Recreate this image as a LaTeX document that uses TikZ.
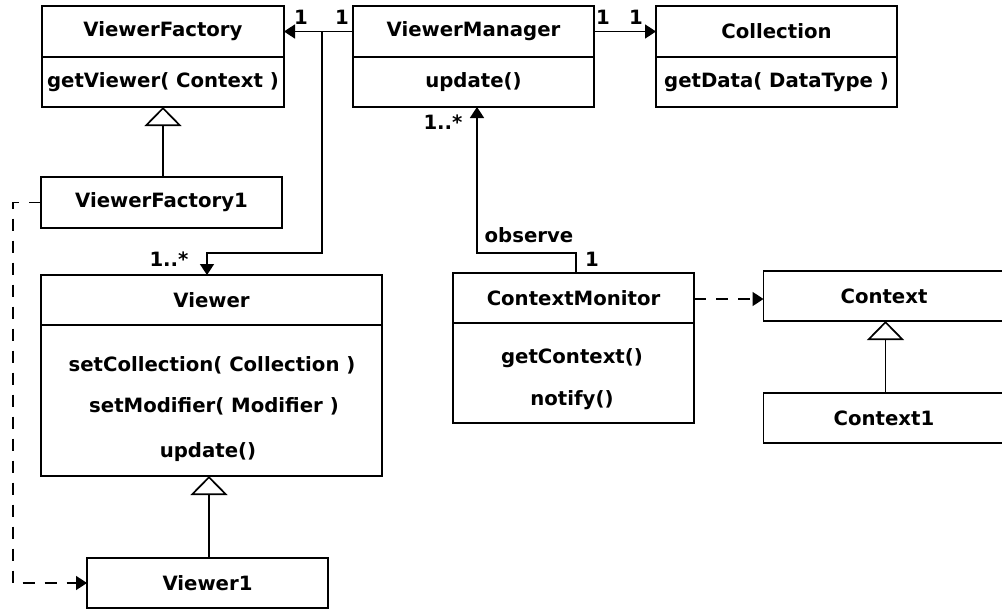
\documentclass[tikz,border=0pt]{standalone}
\usepackage{fontspec}
\setmainfont{DejaVu Sans}
\usetikzlibrary{arrows.meta,calc}

\tikzset{
  box/.style={draw, line width=1.7pt, rectangle, inner sep=0pt, outer sep=0pt, font=\fontsize{19.7pt}{23pt}\selectfont\bfseries},
  txt/.style={inner sep=0pt, font=\fontsize{19.7pt}{23pt}\selectfont\bfseries},
  assoc/.style={line width=1.7pt, -{Triangle[length=11pt,width=14pt]}},
  depend/.style={line width=1.7pt, dash pattern=on 12pt off 10pt, -{Triangle[length=11pt,width=14pt]}},
  inherit/.style={line width=1.7pt, -{Triangle[open,length=19pt,width=37pt,fill=white]}},
}

\begin{document}
\begin{tikzpicture}[x=1pt, y=-1pt]
  \useasboundingbox (0,0) rectangle (1002,610);
  \clip (0,0) rectangle (1002,610);

  % ViewerFactory
  \node[box, minimum width=242pt, minimum height=51pt] (vfh) at (163,31.5) {ViewerFactory};
  \node[box, minimum width=242pt, minimum height=50pt, anchor=north] (vfb) at (vfh.south) {getViewer( Context )};

  % ViewerManager
  \node[box, minimum width=241pt, minimum height=51pt] (vmh) at (473.5,31.5) {ViewerManager};
  \node[box, minimum width=241pt, minimum height=50pt, anchor=north] (vmb) at (vmh.south) {update()};

  % Collection
  \node[box, minimum width=241pt, minimum height=51pt] (colh) at (776.5,31.5) {Collection};
  \node[box, minimum width=241pt, minimum height=50pt, anchor=north] (colb) at (colh.south) {getData( DataType )};

  % ViewerFactory1
  \node[box, minimum width=241pt, minimum height=51pt] (vf1) at (161.5,202.5) {ViewerFactory1};

  % Viewer
  \node[box, minimum width=341pt, minimum height=50pt] (vwh) at (211.5,300) {Viewer};
  \node[box, minimum width=341pt, minimum height=151pt, anchor=north] (vwb) at (vwh.south) {};
  \node[txt] (vwm1) at (212,365) {setCollection( Collection )};
  \node[txt] (vwm2) at (214,406) {setModifier( Modifier )};
  \node[txt] (vwm3) at (208,452) {update()};

  % Viewer1
  \node[box, minimum width=241pt, minimum height=50pt] (vw1) at (207.5,583) {Viewer1};

  % ContextMonitor
  \node[box, minimum width=241pt, minimum height=50pt] (cmh) at (573.5,298) {ContextMonitor};
  \node[box, minimum width=241pt, minimum height=100pt, anchor=north] (cmb) at (cmh.south) {};
  \node[txt] (cmm1) at (572,358) {getContext()};
  \node[txt] (cmm2) at (572,400) {notify()};

  % Context and Context1
  \node[box, minimum width=241pt, minimum height=50pt] (ctx) at (884,296) {Context};
  \node[box, minimum width=241pt, minimum height=50pt] (ctx1) at (884,418) {Context1};

  % associations
  \draw[assoc] (vmh.west) -- (vfh.east);
  \coordinate (split) at (322,31.5);
  \draw[assoc] (split) -- ++(0,221.5) -| ([xshift=-4.5pt]vwh.north);
  \draw[assoc] (vmh.east) -- (colh.west);
  \draw[assoc] ([xshift=2.5pt]cmh.north) -- ++(0,-20) -| ([xshift=3.5pt]vmb.south);

  % dependencies
  \draw[depend] (vf1.west) -- ++(-28,0) |- (vw1.west);
  \draw[depend] ([yshift=-1pt]cmh.east) -- ([yshift=-1pt]cmh.east -| ctx.west);

  % generalizations
  \draw[inherit] (vf1.north -| vfb.south) -- (vfb.south);
  \draw[inherit] ([xshift=1.5pt]vw1.north) -- ([xshift=1.5pt]vw1.north |- vwb.south);
  \draw[inherit] ([xshift=1.5pt]ctx1.north) -- ([xshift=1.5pt]ctx1.north |- ctx.south);

  % multiplicities and role names
  \node[txt] (m1) at (301,17) {1};
  \node[txt] (m2) at (342,17) {1};
  \node[txt] (m3) at (603,17) {1};
  \node[txt] (m4) at (636,17) {1};
  \node[txt] (m5) at (169,259) {1..*};
  \node[txt] (m6) at (443,122) {1..*};
  \node[txt] (obs) at (529,235) {observe};
  \node[txt] (m7) at (592,259) {1};
\end{tikzpicture}
\end{document}
